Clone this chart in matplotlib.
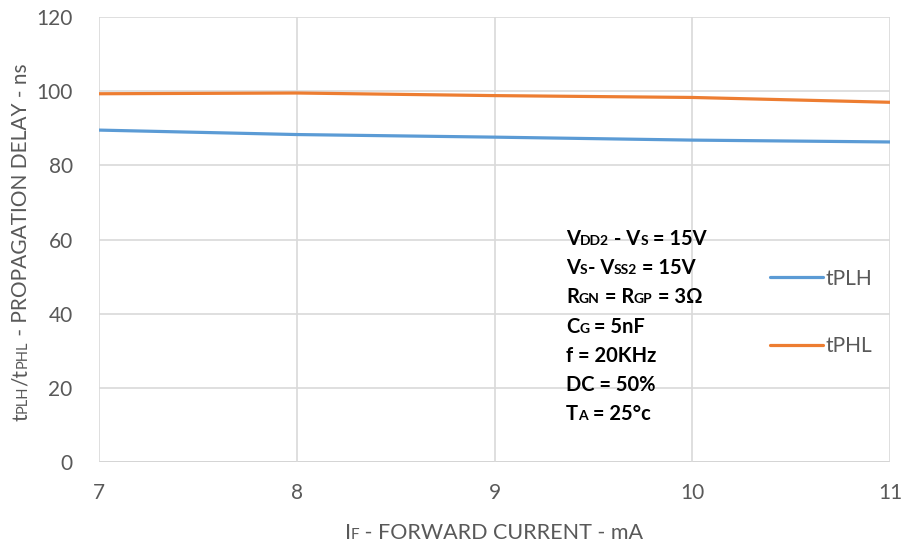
import matplotlib
matplotlib.use("Agg")
import matplotlib.pyplot as plt
from matplotlib.transforms import offset_copy

plt.rcParams['font.family'] = ['Lato', 'DejaVu Sans']

# Data
current = [7, 8, 9, 10, 11]
tplh = [89.5, 88.3, 87.6, 86.8, 86.3]
tphl = [99.3, 99.5, 98.8, 98.3, 97.0]

blue = '#5b9bd5'
orange = '#ed7d31'
grey = '#595959'

fig = plt.figure(figsize=(9.02, 5.46), dpi=100)
ax = fig.add_axes([0.1098, 0.1538, 0.8769, 0.8151])

ax.plot(current, tplh, color=blue, lw=2.3, label='tPLH', solid_capstyle='round')
ax.plot(current, tphl, color=orange, lw=2.3, label='tPHL', solid_capstyle='round')

ax.set_xlim(7, 11)
ax.set_ylim(0, 120)
ax.set_xticks(current)
ax.set_yticks(range(0, 121, 20))
ax.grid(True, color='#d9d9d9', lw=1.2)
ax.set_axisbelow(True)
for s in ax.spines.values():
    s.set_visible(False)
ax.axhline(0, color='#bfbfbf', lw=1.3, zorder=0.5)
ax.tick_params(length=0, labelsize=15, labelcolor=grey)
ax.tick_params(axis='y', pad=19)
ax.tick_params(axis='x', pad=15)

leg = ax.legend(loc='center left', bbox_to_anchor=(0.848, 0.336), frameon=False,
                fontsize=15, labelcolor=grey, labelspacing=2.3, handlelength=2.54,
                handletextpad=0.14, borderpad=0, borderaxespad=0)


def rich_text(x, y, parts, transform, rotation=0, center=False, **kw):
    # draw pieces one after another; small pieces stand for subscripts
    fig.canvas.draw()
    r = fig.canvas.get_renderer()
    texts = []
    dx = 0.0
    for txt, size in parts:
        if rotation == 0:
            t = fig.text(x, y, txt, transform=offset_copy(transform, fig=fig, x=dx, y=0, units='dots'),
                         fontsize=size, va='baseline', ha='left', **kw)
            w = t.get_window_extent(r).width
        else:
            t = fig.text(x, y, txt, transform=offset_copy(transform, fig=fig, x=0, y=dx, units='dots'),
                         fontsize=size, rotation=90, va='baseline', ha='left',
                         rotation_mode='anchor', **kw)
            w = t.get_window_extent(r).height
        texts.append((t, dx))
        dx += w
    if center:
        for t, d in texts:
            if rotation == 0:
                t.set_transform(offset_copy(transform, fig=fig, x=d - dx / 2, y=0, units='dots'))
            else:
                t.set_transform(offset_copy(transform, fig=fig, x=0, y=d - dx / 2, units='dots'))


big, small = 14.5, 10
box = [
    [('V', big), ('DD2', small), (' - V', big), ('S', small), (' = 15V', big)],
    [('V', big), ('S', small), ('- V', big), ('SS2', small), (' = 15V', big)],
    [('R', big), ('GN', small), (' = R', big), ('GP', small), (' = 3\u03a9', big)],
    [('C', big), ('G', small), (' = 5nF', big)],
    [('f = 20KHz', big)],
    [('DC = 50%', big)],
    [('T', big), ('A', small), (' = 25\u00b0c', big)],
]
for i, line in enumerate(box):
    rich_text(566 / 902, 1 - (245 + i * 29.2) / 546, line, fig.transFigure,
              fontweight='bold', color='black')

# x label
rich_text(494 / 902, 1 - 539 / 546,
          [('I', 15.5), ('F', 11), (' - FORWARD CURRENT - mA', 15.5)],
          fig.transFigure, center=True, color=grey)

# y label
rich_text(27 / 902, 1 - 242 / 546,
          [('t', 15), ('PLH', 10.5), ('/t', 15), ('PHL', 10.5),
           (' - PROPAGATION DELAY - ns', 15)],
          fig.transFigure, rotation=90, center=True, color=grey)

fig.savefig('out.png', dpi=100)
